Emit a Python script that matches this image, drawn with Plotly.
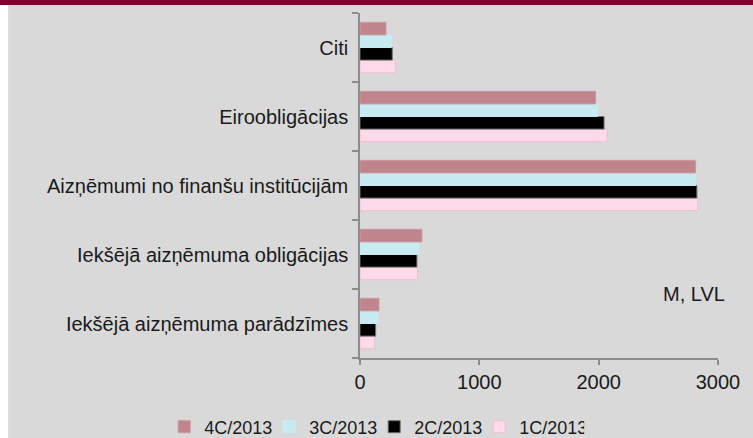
import plotly.graph_objects as go

categories = [
    "Iekšējā aizņēmuma parādzīmes",
    "Iekšējā aizņēmuma obligācijas",
    "Aizņēmumi no finanšu institūcijām",
    "Eiroobligācijas",
    "Citi",
]
series_names = ["1C/2013", "2C/2013", "3C/2013", "4C/2013"]
values_1c = [123, 483, 2831, 2070, 298]
values_2c = [131, 477, 2823, 2045, 270]
values_3c = [148, 494, 2812, 1992, 262]
values_4c = [159, 519, 2812, 1975, 218]
x_ticks = [0, 1000, 2000, 3000]

series_values = [values_1c, values_2c, values_3c, values_4c]
fills = ["#ffdbe9", "#000000", "#c8ebf2", "#c0848c"]
borders = ["#f3bdd0", "#6e6e6e", "#c8ebf2", "#c99aa1"]

fig = go.Figure()
for name, vals, fc, bc in zip(series_names, series_values, fills, borders):
    fig.add_trace(go.Bar(
        y=categories, x=vals, name=name, orientation="h",
        marker=dict(color=fc, line=dict(color=bc, width=1)),
    ))

FONT = "Liberation Sans, Arial, sans-serif"
TXT = "#1a1a1a"
AX = "#8c8c8c"

fig.update_layout(
    width=753, height=438,
    margin=dict(l=360, r=35, t=13, b=80, pad=0, autoexpand=False),
    paper_bgcolor="#d9d9d9", plot_bgcolor="#d9d9d9",
    barmode="group", bargap=0.27, bargroupgap=0,
    font=dict(family=FONT, size=20, color=TXT),
    showlegend=True,
    legend=dict(
        orientation="h", traceorder="reversed",
        x=-0.547, xanchor="left", y=-0.200, yanchor="middle",
        font=dict(size=18, color=TXT), bgcolor="rgba(0,0,0,0)",
        entrywidth=60, itemwidth=30,
    ),
    xaxis=dict(
        range=[0, 3000], tickvals=x_ticks, ticktext=[str(v) for v in x_ticks],
        showgrid=False, zeroline=False,
        showline=True, linecolor=AX, linewidth=1.5,
        ticks="outside", ticklen=5, tickcolor=AX, tickwidth=1.5,
        tickfont=dict(size=20, color=TXT),
    ),
    yaxis=dict(
        categoryorder="array", categoryarray=categories,
        showgrid=False, zeroline=False,
        showline=True, linecolor=AX, linewidth=1.5,
        ticks="outside", ticklen=6, tickcolor=AX, tickwidth=1.5,
        tickson="boundaries", ticklabelstandoff=6,
        tickfont=dict(size=20, color=TXT),
    ),
    shapes=[
        dict(type="rect", xref="paper", yref="paper", x0=-2, x1=2, y0=1.0232, y1=1.2,
             fillcolor="#7a0032", line=dict(width=0), layer="below"),
        dict(type="rect", xref="paper", yref="paper", x0=-2, x1=-0.983, y0=-1, y1=1.0232,
             fillcolor="#ffffff", line=dict(width=0), layer="below"),
    ],
    annotations=[
        dict(text="M, LVL", xref="paper", yref="paper", x=0.933, y=0.186,
             xanchor="center", yanchor="middle", showarrow=False,
             font=dict(size=20, color=TXT)),
    ],
)

fig.write_html(
    "out.html",
    config={"displayModeBar": False},
    post_script="document.body.style.margin='0';document.body.style.overflow='hidden';",
)
